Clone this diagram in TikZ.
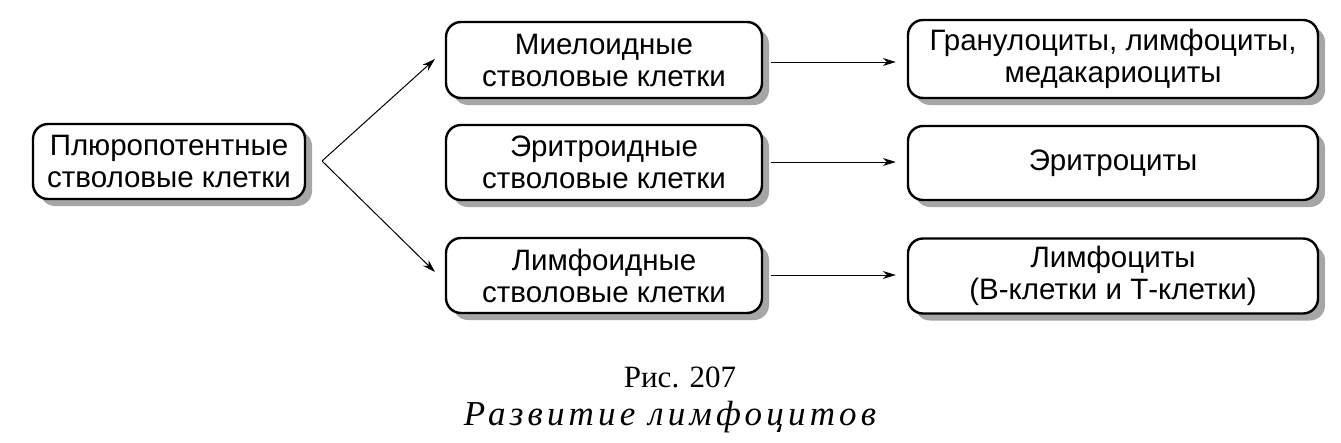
\documentclass[tikz,border=0pt]{standalone}
\usepackage{fontspec}
\setmainfont{Liberation Sans}
\newfontfamily\capfont{Liberation Serif}
\newfontfamily\capitfont[LetterSpace=12]{Liberation Serif}
\usetikzlibrary{arrows.meta,shadows}
\begin{document}
\begin{tikzpicture}[x=1pt,y=-1pt,
  box/.style={draw=black, line width=2.4pt, rounded corners=15pt, fill=white,
    align=center, inner sep=0pt, font=\fontsize{29.5}{32}\selectfont,
    drop shadow={shadow xshift=7pt, shadow yshift=-7pt, fill=black!35, opacity=1}},
  conn/.style={line width=1pt, -{Stealth[length=13pt,width=8pt]}}]
\useasboundingbox (0,0) rectangle (1341,442);
\node[box, minimum width=272pt, minimum height=75pt] (p) at (169,161.5) {Плюропотентные\\стволовые клетки};
\node[box, minimum width=316pt, minimum height=76pt] (m1) at (604,60) {Миелоидные\\стволовые клетки};
\node[box, minimum width=316pt, minimum height=75pt] (m2) at (604,162.5) {Эритроидные\\стволовые клетки};
\node[box, minimum width=316pt, minimum height=75pt] (m3) at (604,275.5) {Лимфоидные\\стволовые клетки};
\node[box, minimum width=410pt, minimum height=78pt] (r1) at (1113,59) {Гранулоциты, лимфоциты,\\медакариоциты};
\node[box, minimum width=410pt, minimum height=74pt] (r2) at (1113,163) {Эритроциты};
\node[box, minimum width=410pt, minimum height=75pt] (r3) at (1113,276) {Лимфоциты\\(В-клетки и Т-клетки)};
\coordinate (fork) at (322,161);
\coordinate (t1) at (435,59);
\coordinate (t3) at (435,272);
\draw[conn] (fork) -- (t1);
\draw[conn] (fork) -- (t3);
\draw[conn, shorten >=11pt] ([xshift=8pt]m1.east |- 0,62) -- (r1.west |- 0,62);
\draw[conn, shorten >=11pt] ([xshift=8pt]m2.east |- 0,162) -- (r2.west |- 0,162);
\draw[conn, shorten >=11pt] ([xshift=8pt]m3.east |- 0,275) -- (r3.west |- 0,275);
\node[font=\capfont\fontsize{31}{34}\selectfont] (c1) at (680,377) {Рис. 207};
\node[font=\capitfont\itshape\fontsize{35}{38}\selectfont] (c2) at (670,417) {Развитие лимфоцитов};
\end{tikzpicture}
\end{document}
